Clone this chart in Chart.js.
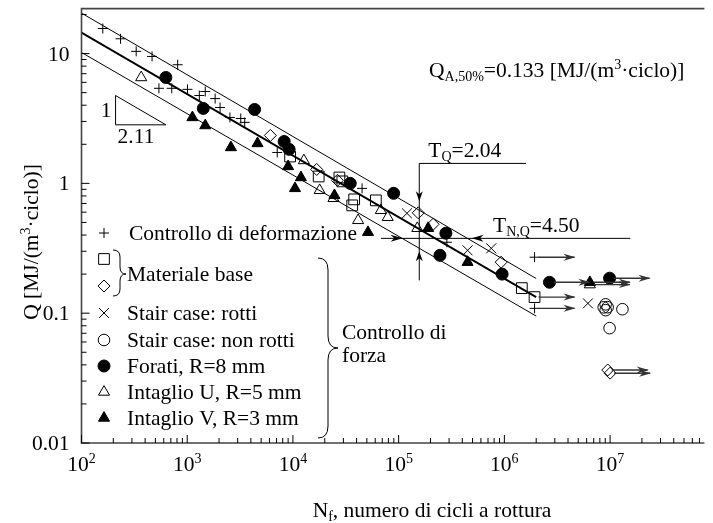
<!DOCTYPE html>
<html>
<head>
<meta charset="utf-8">
<script src="https://cdn.jsdelivr.net/npm/chart.js@4.4.0/dist/chart.umd.min.js"></script>
<style>
body { margin: 0; background: #fff; }
#wrap { width: 713px; height: 523px; }
</style>
</head>
<body>
<div id="wrap"><canvas id="chart" width="713" height="523"></canvas></div>
<script>
// [N, Q] pairs; *Run = run-outs (drawn with an arrow)
const plusPts = [[159,15.6],[234,13.0],[329,10.4],[465,9.5],[812,8.2],[540,5.4],[714,5.4],[1006,5.3],[1302,4.75],[1481,5.1],[1837,4.5],[2045,3.84],[2534,3.22],[3209,3.16],[3498,2.95],[7106,1.73],[45070,0.915],[285800,0.352]];
const plusRun = [[1.93e6,0.270],[1.93e6,0.109]];
const squarePts = [[9397,1.61],[17520,1.13],[27510,1.11],[29340,1.036],[37960,0.753],[36360,0.677],[60880,0.740],[1.463e6,0.156]];
const squareRun = [[1.93e6,0.133]];
const diamondPts = [[6114,2.34],[16780,1.28],[26350,1.055],[153300,0.593],[211700,0.484],[931600,0.247]];
const diamondRun = [[9.5e6,0.0365],[1.0e7,0.0345]];
const brokenPts = [[119800,0.588],[448700,0.305],[751400,0.316],[6.17e6,0.119]];
const unbrokenPts = [[9.08e6,0.117],[9.08e6,0.1055],[9.48e6,0.1112],[8.7e6,0.111],[1.308e7,0.1073],[9.89e6,0.0767]];
const holePts = [[628,6.54],[1419,3.78],[4337,3.71],[8260,2.10],[9197,1.83],[34830,1.0],[89640,0.838],[279700,0.413],[245900,0.279],[951700,0.200]];
const holeRun = [[2.67e6,0.173],[9.89e6,0.186]];
const uPts = [[367,6.54],[12690,1.50],[17900,0.884],[24180,0.767],[41360,0.519],[67800,0.620],[78790,0.548],[150100,0.451]];
const uRun = [[6.44e6,0.166]];
const vPts = [[1120,3.22],[1481,2.79],[2590,1.89],[4624,2.03],[9000,1.35],[11900,1.11],[10460,0.915],[24700,0.809],[51290,0.420],[190100,0.451],[448700,0.247]];
const vRun = [[6.44e6,0.173]];

// scatter band: mean line and 10%/90% lines
const bandN = [100, 2e6];
const meanQ = [14.5, 0.133];
const upperQ = [20.5, 0.185];
const lowerQ = [10.2, 0.095];

const xExp = [2, 3, 4, 5, 6, 7];
const yTicks = [0.01, 0.1, 1, 10];
const yTickLabels = ['0.01', '0.1', '1', '10'];

const legendLabels = ['Controllo di deformazione', 'Materiale base', 'Stair case: rotti', 'Stair case: non rotti', 'Forati, R=8 mm', 'Intaglio U, R=5 mm', 'Intaglio V, R=3 mm'];

const FONT = '"Liberation Serif", "Times New Roman", serif';
const BIG = 21.5, SMALL = 14;

function pts(a) { return a.map(p => ({ x: p[0], y: p[1] })); }
function line(q) { return bandN.map((n, i) => ({ x: n, y: q[i] })); }

const marks = {
  plus: { pointStyle: 'cross', pointRadius: 5, fill: false },
  square: { pointStyle: 'rect', pointRadius: 7.6, fill: false },
  diamond: { pointStyle: 'rectRot', pointRadius: 6, fill: false },
  broken: { pointStyle: 'crossRot', pointRadius: 7, fill: false },
  unbroken: { pointStyle: 'circle', pointRadius: 5.8, fill: false },
  hole: { pointStyle: 'circle', pointRadius: 6, fill: true },
  u: { pointStyle: 'triangle', pointRadius: 6.4, fill: false },
  v: { pointStyle: 'triangle', pointRadius: 6.4, fill: true }
};

function markSet(key, data) {
  const m = marks[key];
  return {
    data: data,
    pointStyle: m.pointStyle,
    pointRadius: m.pointRadius,
    pointBorderWidth: 1,
    pointBorderColor: '#000',
    pointBackgroundColor: m.fill ? '#000' : 'rgba(0,0,0,0)',
    showLine: false
  };
}

function bandSet(q, w) {
  return { data: line(q), showLine: true, borderColor: '#000', borderWidth: w, pointRadius: 0, fill: false };
}

function rich(ctx, parts, x, y, align) {
  let w = 0;
  parts.forEach(p => {
    ctx.font = (p[1] ? SMALL : BIG) + 'px ' + FONT;
    w += ctx.measureText(p[0]).width;
  });
  let cx = align === 'center' ? x - w / 2 : (align === 'right' ? x - w : x);
  const base = y + 7;
  ctx.textAlign = 'left';
  ctx.textBaseline = 'alphabetic';
  parts.forEach(p => {
    ctx.font = (p[1] ? SMALL : BIG) + 'px ' + FONT;
    const dy = p[1] === 'sub' ? 4 : (p[1] === 'sup' ? -8 : 0);
    ctx.fillText(p[0], cx, base + dy);
    cx += ctx.measureText(p[0]).width;
  });
}

function head(ctx, x, y, dx, dy, len, hw) {
  // filled arrow head, tip at (x, y) pointing along (dx, dy)
  const bx = x - dx * len, by = y - dy * len;
  ctx.beginPath();
  ctx.moveTo(x, y);
  ctx.lineTo(bx - dy * hw, by + dx * hw);
  ctx.lineTo(x - dx * len * 0.7, y - dy * len * 0.7);
  ctx.lineTo(bx + dy * hw, by - dx * hw);
  ctx.closePath();
  ctx.fill();
}

function mark(ctx, key, x, y) {
  const m = marks[key];
  ctx.fillStyle = m.fill ? '#000' : 'rgba(0,0,0,0)';
  ctx.strokeStyle = '#000';
  ctx.lineWidth = 1;
  Chart.helpers.drawPoint(ctx, { pointStyle: m.pointStyle, radius: m.pointRadius, borderWidth: 1, rotation: 0 }, x, y);
}

const decor = {
  id: 'decor',
  afterDatasetsDraw(chart) {
    const ctx = chart.ctx;
    const xs = chart.scales.x, ys = chart.scales.y;
    const a = chart.chartArea;
    const P = (n, q) => [xs.getPixelForValue(n), ys.getPixelForValue(q)];
    ctx.save();

    // run-out arrows
    ctx.strokeStyle = '#333';
    ctx.fillStyle = '#333';
    ctx.lineWidth = 1.4;
    [plusRun, squareRun, diamondRun, holeRun, uRun, vRun].forEach(run => {
      run.forEach(p => {
        const [x, y] = P(p[0], p[1]);
        ctx.beginPath();
        ctx.moveTo(x + 4, y);
        ctx.lineTo(x + 40, y);
        ctx.stroke();
        head(ctx, x + 41, y, 1, 0, 12, 3.5);
      });
    });

    // frame and ticks
    ctx.strokeStyle = '#444';
    ctx.lineWidth = 1.6;
    ctx.beginPath();
    ctx.moveTo(a.right, a.top); ctx.lineTo(a.left, a.top); ctx.lineTo(a.left, a.bottom); ctx.lineTo(a.right, a.bottom);
    ctx.stroke();
    ctx.lineWidth = 1;
    ctx.strokeStyle = '#000';
    ctx.beginPath();
    for (let e = 2; e <= 7; e++) {
      for (let k = 1; k <= 9; k++) {
        const x = xs.getPixelForValue(k * Math.pow(10, e));
        if (x > a.right) continue;
        const L = k === 1 ? 8 : 5;
        ctx.moveTo(x, a.bottom); ctx.lineTo(x, a.bottom - L);
      }
    }
    for (let e = -2; e <= 1; e++) {
      for (let k = 1; k <= 9; k++) {
        const y = ys.getPixelForValue(k * Math.pow(10, e));
        if (y < a.top) continue;
        const L = k === 1 ? 8 : 5;
        ctx.moveTo(a.left, y); ctx.lineTo(a.left + L, y);
      }
    }
    ctx.stroke();

    // tick labels
    ctx.fillStyle = '#000';
    xExp.forEach(e => {
      rich(ctx, [['10', ''], [String(e), 'sup']], xs.getPixelForValue(Math.pow(10, e)), a.bottom + 21, 'center');
    });
    yTicks.forEach((v, i) => {
      rich(ctx, [[yTickLabels[i], '']], a.left - 12, ys.getPixelForValue(v), 'right');
    });

    // axis titles
    rich(ctx, [['N', ''], ['f', 'sub'], [', numero di cicli a rottura', '']], 432, 510, 'center');
    ctx.save();
    ctx.translate(31, 242);
    ctx.rotate(-Math.PI / 2);
    rich(ctx, [['Q [MJ/(m', ''], ['3', 'sup'], ['·ciclo)]', '']], 0, 0, 'center');
    ctx.restore();

    // fatigue limit note
    rich(ctx, [['Q', ''], ['A,50%', 'sub'], ['=0.133 [MJ/(m', ''], ['3', 'sup'], ['·ciclo)]', '']], 429, 70, 'left');

    // slope triangle 1 : 2.11
    const [tx0, ty0] = P(210, 4.75);
    const run = 0.476;
    const [tx1, ty1] = P(210 * Math.pow(10, run), 4.75 / Math.pow(10, run / 2.11));
    ctx.strokeStyle = '#000';
    ctx.lineWidth = 1;
    ctx.beginPath();
    ctx.moveTo(tx0, ty0); ctx.lineTo(tx0, ty1); ctx.lineTo(tx1, ty1); ctx.closePath();
    ctx.stroke();
    rich(ctx, [['1', '']], tx0 - 4, (ty0 + ty1) / 2, 'right');
    rich(ctx, [['2.11', '']], tx0 + 2, ty1 + 11, 'left');

    // T_Q marker
    const [vx, vTop] = P(1.567e5, 1.425);
    const vBot = ys.getPixelForValue(0.179);
    const d1 = ys.getPixelForValue(0.727), d2 = ys.getPixelForValue(0.300);
    ctx.beginPath();
    ctx.moveTo(xs.getPixelForValue(1.6e6), vTop); ctx.lineTo(vx, vTop); ctx.lineTo(vx, vBot);
    ctx.stroke();
    ctx.fillStyle = '#000';
    head(ctx, vx, d1, 0, 1, 10, 3.5);
    head(ctx, vx, d2, 0, -1, 10, 3.5);
    rich(ctx, [['T', ''], ['Q', 'sub'], ['=2.04', '']], vx + 9, vTop - 13, 'left');

    // T_N,Q marker
    const hy = ys.getPixelForValue(0.377);
    const hl = xs.getPixelForValue(6.8e4), hr = xs.getPixelForValue(1.55e7);
    ctx.beginPath();
    ctx.moveTo(hl, hy); ctx.lineTo(hr, hy);
    ctx.stroke();
    head(ctx, xs.getPixelForValue(1.09e5), hy, 1, 0, 12, 3.5);
    head(ctx, xs.getPixelForValue(4.9e5), hy, -1, 0, 12, 3.5);
    rich(ctx, [['T', ''], ['N,Q', 'sub'], ['=4.50', '']], 493, hy - 13, 'left');

    // legend
    const sy = [233, 259, 286, 313, 340, 366, 392, 418];
    ['plus', 'square', 'diamond', 'broken', 'unbroken', 'hole', 'u', 'v'].forEach((k, i) => mark(ctx, k, 104, sy[i]));
    ctx.fillStyle = '#000';
    rich(ctx, [[legendLabels[0], '']], 129, sy[0], 'left');
    rich(ctx, [[legendLabels[1], '']], 127, 274, 'left');
    for (let i = 2; i < 7; i++) rich(ctx, [[legendLabels[i], '']], 127, sy[i + 1], 'left');

    // braces
    ctx.strokeStyle = '#000';
    ctx.lineWidth = 1;
    ctx.beginPath();
    ctx.moveTo(113, 250);
    ctx.quadraticCurveTo(120, 250, 120, 257);
    ctx.lineTo(120, 267);
    ctx.quadraticCurveTo(120, 274, 126, 274);
    ctx.quadraticCurveTo(120, 274, 120, 281);
    ctx.lineTo(120, 289);
    ctx.quadraticCurveTo(120, 296, 113, 296);
    ctx.stroke();
    ctx.beginPath();
    ctx.moveTo(318, 258);
    ctx.quadraticCurveTo(328, 258, 328, 270);
    ctx.lineTo(328, 336);
    ctx.quadraticCurveTo(328, 348, 338, 348);
    ctx.quadraticCurveTo(328, 348, 328, 360);
    ctx.lineTo(328, 426);
    ctx.quadraticCurveTo(328, 438, 318, 438);
    ctx.stroke();
    ctx.fillStyle = '#000';
    rich(ctx, [['Controllo di', '']], 342, 332, 'left');
    rich(ctx, [['forza', '']], 342, 355, 'left');

    ctx.restore();
  }
};

new Chart(document.getElementById('chart'), {
  type: 'scatter',
  data: {
    datasets: [
      markSet('plus', pts(plusPts.concat(plusRun))),
      markSet('square', pts(squarePts.concat(squareRun))),
      markSet('diamond', pts(diamondPts.concat(diamondRun))),
      markSet('broken', pts(brokenPts)),
      markSet('unbroken', pts(unbrokenPts)),
      markSet('hole', pts(holePts.concat(holeRun))),
      markSet('u', pts(uPts.concat(uRun))),
      markSet('v', pts(vPts.concat(vRun))),
      bandSet(meanQ, 1.8),
      bandSet(upperQ, 1),
      bandSet(lowerQ, 1)
    ]
  },
  options: {
    responsive: false,
    animation: false,
    layout: { padding: { left: 81.5, top: 8, right: 0, bottom: 80 } },
    plugins: { legend: { display: false }, tooltip: { enabled: false } },
    scales: {
      x: { type: 'logarithmic', min: 100, max: 7.8e7, display: false },
      y: { type: 'logarithmic', min: 0.01, max: 22.2, display: false }
    }
  },
  plugins: [decor]
});
</script>
</body>
</html>
